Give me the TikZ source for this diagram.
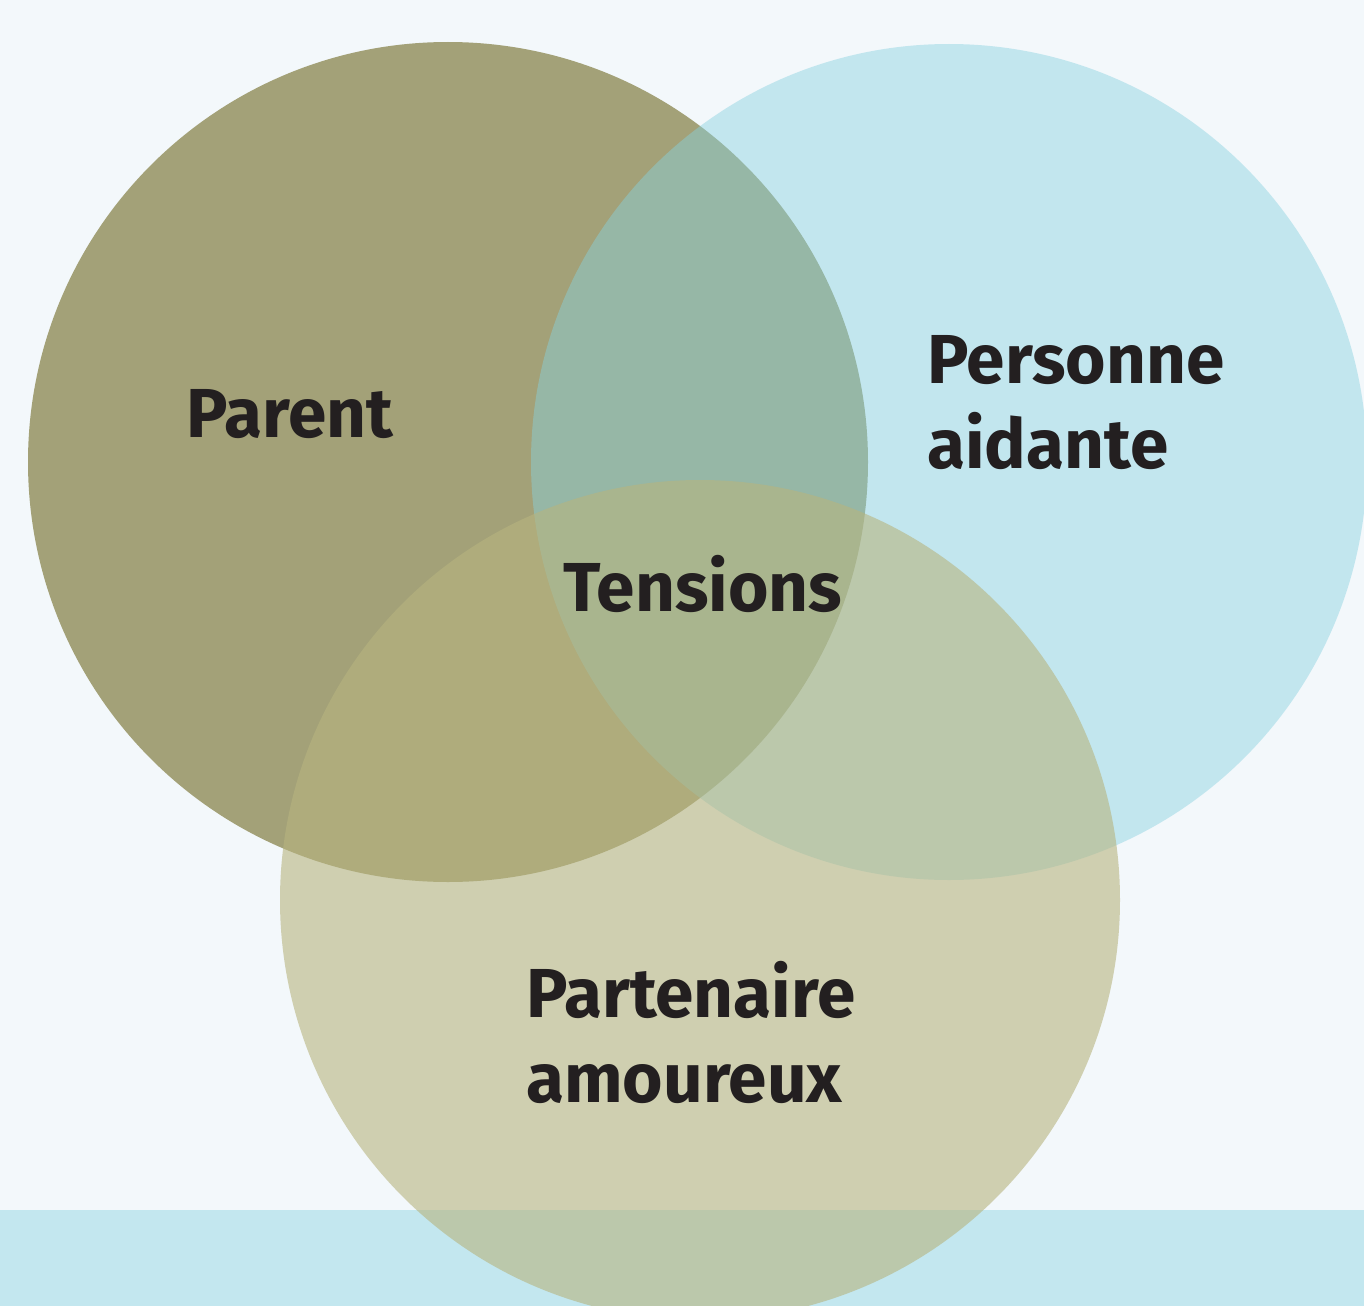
\documentclass[tikz,border=0pt]{standalone}
\usepackage{fontspec}
\setmainfont{Fira Sans}
\definecolor{pagebg}{RGB}{243,248,251}
\definecolor{bandblue}{RGB}{195,231,239}
\definecolor{parentolive}{RGB}{163,161,120}
\definecolor{aidecyan}{RGB}{136,210,224}
\definecolor{partbeige}{RGB}{183,180,127}
\definecolor{labelink}{RGB}{35,31,32}

\begin{document}
\begin{tikzpicture}[x=0.75pt,y=0.75pt,yscale=-1,xscale=1,
  vlabel/.style={anchor=base west,inner sep=0pt,align=left,text=labelink,
    font=\bfseries\fontsize{52}{63.75}\selectfont}]
\useasboundingbox (0,0) rectangle (1364,1306);

%Shape: Rectangle [background]
\fill [pagebg] (0,0) rectangle (1364,1306);
%Shape: Rectangle [bottom band]
\fill [bandblue] (0,1210) rectangle (1364,1306);

%Shape: Circle [parent]
\fill [parentolive] (448,462) circle (420);
%Shape: Circle [personne aidante]
\fill [aidecyan,fill opacity=0.45] (949,462) circle (418);
%Shape: Circle [partenaire amoureux]
\fill [partbeige,fill opacity=0.6] (700,900) circle (420);

% Text Node
\node [vlabel] (parent) at (186,437) {Parent};
% Text Node (base = last line)
\node [vlabel] (aidante) at (927,468) {Personne\\aidante};
% Text Node
\node [vlabel] (tensions) at (563,611) {Tensions};
% Text Node (base = last line)
\node [vlabel] (partenaire) at (526,1102) {Partenaire\\amoureux};

\end{tikzpicture}
\end{document}
